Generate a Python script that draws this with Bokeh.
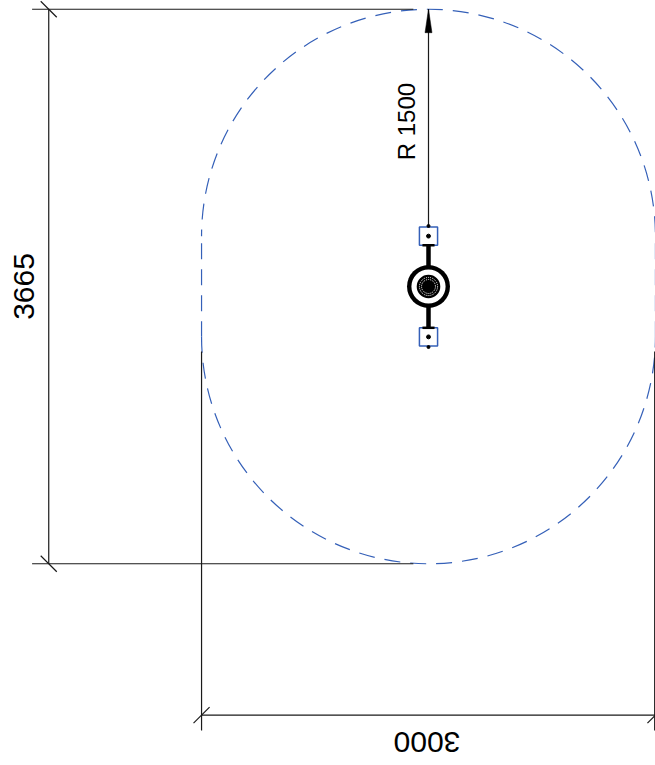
from math import pi
from bokeh.plotting import figure
from bokeh.core.properties import value
from bokeh.embed import file_html
from bokeh.resources import INLINE

# Drawing dimensions, millimetres (origin: centre of the swing)
dim_labels = ["3665", "3000", "R 1500"]
overall_height = 3665
overall_width = 3000
radius = 1500
half_straight = 332.5
scale = 0.1513  # page px per mm

seat_size = 120
seat_offset = 333
hanger_offset = 400
ring_outer = 142
ring_outer_inner = 113
hub_radius = 78
dotted_radii = [60, 46]
core_radius = 30
witness_left_top = -430
witness_bottom = -2935
dim_left_x = -2510
dim_left_start = -2620
dim_bottom_y = -2833
tick = 53

cx_px, cy_px, W, H = 428, 286, 655, 765
top = overall_height / 2
bot = -overall_height / 2

p = figure(width=W, height=H, output_backend="svg", toolbar_location=None,
           x_range=(-cx_px / scale, (W - cx_px) / scale),
           y_range=((cy_px - H) / scale, cy_px / scale),
           min_border=0, outline_line_color=None, background_fill_color="white")
p.xaxis.visible = False
p.yaxis.visible = False
p.grid.visible = False

BLUE = "#3560b8"
INK = "#1a1a1a"
# dashed stadium path
dash = dict(line_color=BLUE, line_width=1.2, line_dash="16 10")
p.arc(x=[0], y=[half_straight], radius=radius, start_angle=0, end_angle=pi,
      line_dash_offset=22, **dash)
p.arc(x=[0], y=[-half_straight], radius=radius, start_angle=pi, end_angle=2 * pi, **dash)
p.segment(x0=[-radius, radius], y0=[half_straight, half_straight],
          x1=[-radius, radius], y1=[-half_straight, -half_straight],
          line_dash_offset=19, **dash)

# dimension lines
line = dict(line_color=INK, line_width=1.2)
p.segment(x0=[dim_left_start, dim_left_start, dim_left_x], y0=[top, bot, top],
          x1=[-100, -100, dim_left_x], y1=[top, bot, bot], **line)
p.segment(x0=[-radius, radius - 5, -radius], y0=[witness_left_top, witness_left_top, dim_bottom_y],
          x1=[-radius, radius - 5, radius], y1=[witness_bottom, witness_bottom, dim_bottom_y], **line)
p.segment(x0=[dim_left_x - tick, dim_left_x - tick, -radius - tick, radius - tick],
          y0=[top + tick, bot + tick, dim_bottom_y - tick, dim_bottom_y - tick],
          x1=[dim_left_x + tick, dim_left_x + tick, -radius + tick, radius + tick],
          y1=[top - tick, bot - tick, dim_bottom_y + tick, dim_bottom_y + tick], **line)
# leader and arrow
p.segment(x0=[0], y0=[hanger_offset], x1=[0], y1=[top], line_color=INK, line_width=1.2)
p.patch(x=[0, -23, 23], y=[top, top - 155, top - 155], fill_color="black", line_color="black", line_width=0.5)

# swing: bar, seats, rings
p.segment(x0=[0], y0=[-seat_offset], x1=[0], y1=[seat_offset], line_color="black", line_width=4.5)
p.rect(x=[0, 0], y=[seat_offset, -seat_offset], width=seat_size, height=seat_size,
       fill_color="white", line_color=BLUE, line_width=1.5)
p.segment(x0=[-seat_size / 3, -seat_size / 3],
          y0=[seat_offset - seat_size / 2, -seat_offset + seat_size / 2],
          x1=[seat_size / 3, seat_size / 3],
          y1=[seat_offset - seat_size / 2, -seat_offset + seat_size / 2],
          line_color="black", line_width=2.5)
p.circle(x=[0, 0, 0, 0], y=[seat_offset, -seat_offset, hanger_offset, -hanger_offset],
         radius=[13, 13, 10, 10], fill_color="black", line_color="black")
p.circle(x=[0], y=[0], radius=ring_outer, fill_color="black", line_color=None)
p.circle(x=[0], y=[0], radius=ring_outer_inner, fill_color="white", line_color=None)
p.circle(x=[0], y=[0], radius=hub_radius, fill_color="black", line_color=None)
p.circle(x=[0, 0], y=[0, 0], radius=dotted_radii, fill_color=None, line_color="white",
         line_width=1, line_dash="1 1")
p.circle(x=[0], y=[0], radius=core_radius, fill_color="black", line_color=None)

# labels
txt = dict(text_font=value("Liberation Sans"), text_font_size="30px", text_color="black",
           text_align="center", text_baseline="middle")
p.text(x=[-2673], y=[0], text=[dim_labels[0]], angle=pi / 2, **txt)
p.text(x=[-10], y=[-3010], text=[dim_labels[1]], angle=pi, **txt)
p.text(x=[-145], y=[1090], text=[dim_labels[2]], angle=pi / 2,
       text_font=value("Liberation Sans"), text_font_size="24px", text_color="black",
       text_align="center", text_baseline="middle")

open("out.html", "w").write(file_html(p, INLINE))
